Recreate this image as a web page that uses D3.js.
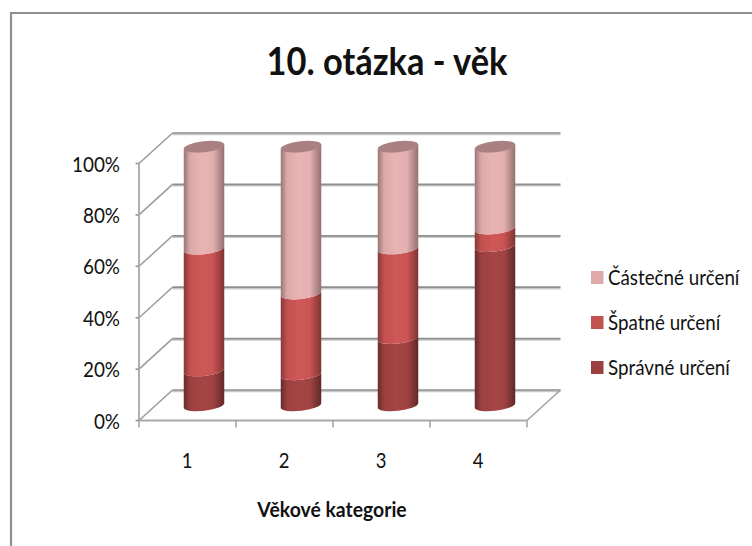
<!DOCTYPE html>
<html><head><meta charset="utf-8">
<script src="https://cdn.jsdelivr.net/npm/d3@7/dist/d3.min.js"></script>
<style>html,body{margin:0;padding:0;background:#fff}svg{display:block}text{font-family:Lato,"Open Sans",sans-serif;fill:#111}</style>
</head><body><svg id="c" width="752" height="546"></svg>
<script>
const categories = ["1","2","3","4"];
const seriesNames = ["Správné určení","Špatné určení","Částečné určení"];
const spravne = [13.5,12,26,61.5];
const spatne  = [47,31.2,34.6,6.8];
const castecne= [39.5,56.8,39.4,31.7];
const yTicks = [0,20,40,60,80,100];
const titleText = "10. otázka - věk";
const axisTitle = "Věkové kategorie";
const swatch = ["#9c3f3f","#c25350","#e0a9a9"];
const grads = [
 ["#6a2b2b","#9b4040","#a54545","#a24343","#622828"],
 ["#863a38","#c25050","#cf5757","#cb5454","#7f3533"],
 ["#9a7676","#dca9a9","#e8b3b3","#e4afaf","#947070"]];
const capColor = "#a98181";

const svg = d3.select("#c");
const rows = categories.map((c,i)=>({c,[seriesNames[0]]:spravne[i],[seriesNames[1]]:spatne[i],[seriesNames[2]]:castecne[i]}));
const stack = d3.stack().keys(seriesNames)(rows);

const x = d3.scaleBand().domain(categories).range([139,527]);
const y = d3.scaleLinear().domain([0,100]).range([420.5,163.5]);
const yBar = d3.scaleLinear().domain([0,100]).range([408,149]);
const depthX = 33.5, depthY = -30.5, barW = 40.5, tilt = 4.5, ry = 5.6, rot = -6.5;
const rx = barW/2+0.2;
const cxOf = c => x(c)+x.bandwidth()/2+16.5;

// frame
svg.append("path").attr("d","M11,546V13H752").attr("fill","none").attr("stroke","#8f8f8f").attr("stroke-width",2.2);

// gradients
const defs = svg.append("defs");
grads.forEach((g,i)=>{
  const lg = defs.append("linearGradient").attr("id","g"+i);
  [0,0.16,0.45,0.72,1].forEach((o,j)=>lg.append("stop").attr("offset",o).attr("stop-color",g[j]));
});

// walls
const gridG = svg.append("g").attr("fill","none");
yTicks.forEach(t=>{
  const yf=y(t), yb=yf+depthY, xb=139+depthX, xe=527+depthX;
  gridG.append("line").attr("x1",xb).attr("x2",xe).attr("y1",yb+1.4).attr("y2",yb+1.4).attr("stroke","#c8c8c8").attr("stroke-width",1.6);
  gridG.append("line").attr("x1",xb).attr("x2",xe).attr("y1",yb).attr("y2",yb).attr("stroke","#8e8e8e").attr("stroke-width",1.7);
  gridG.append("line").attr("x1",139).attr("x2",xb).attr("y1",yf).attr("y2",yb).attr("stroke","#9a9a9a").attr("stroke-width",1.5);
  gridG.append("line").attr("x1",135.5).attr("x2",139).attr("y1",yf).attr("y2",yf).attr("stroke","#8e8e8e").attr("stroke-width",1.5);
});
gridG.append("line").attr("x1",527).attr("y1",y(0)).attr("x2",527+depthX).attr("y2",y(0)+depthY).attr("stroke","#a0a0a0").attr("stroke-width",1.5);
gridG.append("line").attr("x1",139).attr("y1",y(0)).attr("x2",139).attr("y2",y(100)).attr("stroke","#a8a8a8").attr("stroke-width",1.8);
gridG.append("line").attr("x1",139).attr("y1",y(0)).attr("x2",527).attr("y2",y(0)).attr("stroke","#a8a8a8").attr("stroke-width",1.8);
[...categories.map(c=>x(c)),527].forEach(px=>{
  gridG.append("line").attr("x1",px).attr("x2",px).attr("y1",y(0)).attr("y2",y(0)+7).attr("stroke","#a0a0a0").attr("stroke-width",1.5);
});

// cylinders
const segPath=(c,a,b)=>{
  const l=cxOf(c)-barW/2, r=cxOf(c)+barW/2, yT=yBar(b), yB=yBar(a);
  return `M${l},${yT}A${rx},${ry} ${rot} 0 0 ${r},${yT-tilt}L${r},${yB-tilt}A${rx},${ry} ${rot} 0 1 ${l},${yB}Z`;
};
stack.forEach((s,i)=>{
  svg.append("g").selectAll("path").data(s).join("path")
    .attr("d",d=>segPath(d.data.c,d[0],d[1]))
    .attr("fill",`url(#g${i})`);
});
svg.append("g").selectAll("ellipse").data(categories).join("ellipse")
  .attr("cx",cxOf).attr("cy",yBar(100)-tilt/2).attr("rx",rx).attr("ry",ry)
  .attr("transform",c=>`rotate(${rot} ${cxOf(c)} ${yBar(100)-tilt/2})`)
  .attr("fill",capColor);

// labels (Calibri-like: horizontally condensed)
svg.append("text").attr("transform","translate(387,75) scale(.906,1)").attr("text-anchor","middle")
  .attr("font-size",38).attr("font-weight",700).text(titleText);
svg.append("g").selectAll("text").data(yTicks).join("text")
  .attr("transform",t=>`translate(120,${y(t)+8}) scale(.9,1)`).attr("text-anchor","end").attr("font-size",21).attr("fill","#222").text(t=>t+"%");
svg.append("g").selectAll("text").data(categories).join("text")
  .attr("transform",c=>`translate(${x(c)+x.bandwidth()/2-0.5},467.5) scale(.88,1)`).attr("text-anchor","middle").attr("font-size",21).text(c=>c);
svg.append("text").attr("transform","translate(332,517) scale(.945,1)").attr("text-anchor","middle")
  .attr("font-size",20.5).attr("font-weight",700).text(axisTitle);

// legend
const legendY = d3.scalePoint().domain([...seriesNames].reverse()).range([277.5,367.5]);
const lg = svg.append("g").selectAll("g").data(seriesNames).join("g");
lg.append("rect").attr("x",591).attr("y",d=>legendY(d)-6.5).attr("width",12.5).attr("height",13)
  .attr("fill",(d,i)=>swatch[i]);
lg.append("text").attr("transform",d=>`translate(608,${legendY(d)+7}) scale(.895,1)`).attr("font-size",21).attr("fill","#222").text(d=>d);
</script></body></html>
